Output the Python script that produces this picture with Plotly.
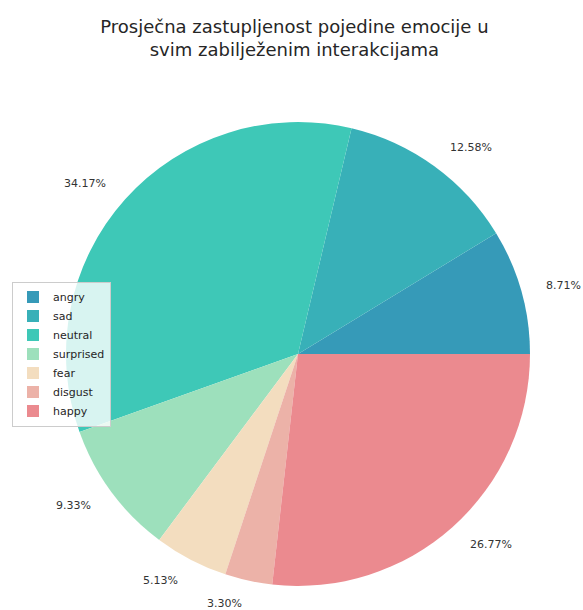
import math

import plotly.graph_objects as go

emotions = ["angry", "sad", "neutral", "surprised", "fear", "disgust", "happy"]
shares = [8.71, 12.58, 34.17, 9.33, 5.13, 3.30, 26.77]
colors = ["#369ab8", "#38b0b8", "#3ec8b7", "#9de0bc", "#f3ddbf", "#ecb2a8", "#eb8a8f"]

W, H = 583, 610
cx, cy, R = 298, 354, 232
total = sum(shares)

fig = go.Figure(
    go.Pie(
        labels=emotions,
        values=shares,
        sort=False,
        direction="counterclockwise",
        # plotly puts the END of the first slice at the rotation angle when ccw
        rotation=90 - 360 * shares[0] / total,
        marker={"colors": colors, "line": {"width": 0}},
        textinfo="none",
        hoverinfo="label+percent",
        domain={"x": [(cx - R) / W, (cx + R) / W], "y": [1 - (cy + R) / H, 1 - (cy - R) / H]},
    )
)

# percentage labels at 1.1 radius, aligned like matplotlib
cum = 0.0
for v in shares:
    theta = 2 * math.pi * (cum + v / 2) / total
    cum += v
    px_ = cx + 1.1 * R * math.cos(theta)
    py_ = cy - 1.1 * R * math.sin(theta)
    fig.add_annotation(
        x=px_ / W, y=1 - py_ / H, xref="paper", yref="paper",
        text=f"{v / total * 100:.2f}%", showarrow=False,
        xanchor="left" if math.cos(theta) > 0 else "right", yanchor="middle",
        font={"size": 11, "color": "#333333"},
    )

fig.update_layout(
    width=W, height=H,
    margin={"l": 0, "r": 0, "t": 0, "b": 0},
    paper_bgcolor="white",
    font={"family": "DejaVu Sans", "color": "#262626"},
    title={
        "text": "Prosječna zastupljenost pojedine emocije u<br>svim zabilježenim interakcijama",
        "x": 0.505, "xanchor": "center", "y": 1 - 33 / H, "yanchor": "middle",
        "font": {"size": 18, "color": "#262626"},
    },
    legend={
        "x": 12 / W, "y": 1 - 354 / H, "xanchor": "left", "yanchor": "middle",
        "bgcolor": "rgba(255,255,255,0.8)", "bordercolor": "#cccccc", "borderwidth": 1,
        "font": {"size": 11, "color": "#262626"},
        "tracegroupgap": 0, "itemwidth": 30,
    },
)

fig.write_html(
    "out.html",
    config={"displayModeBar": False},
    post_script="document.body.style.margin='0';",
)
